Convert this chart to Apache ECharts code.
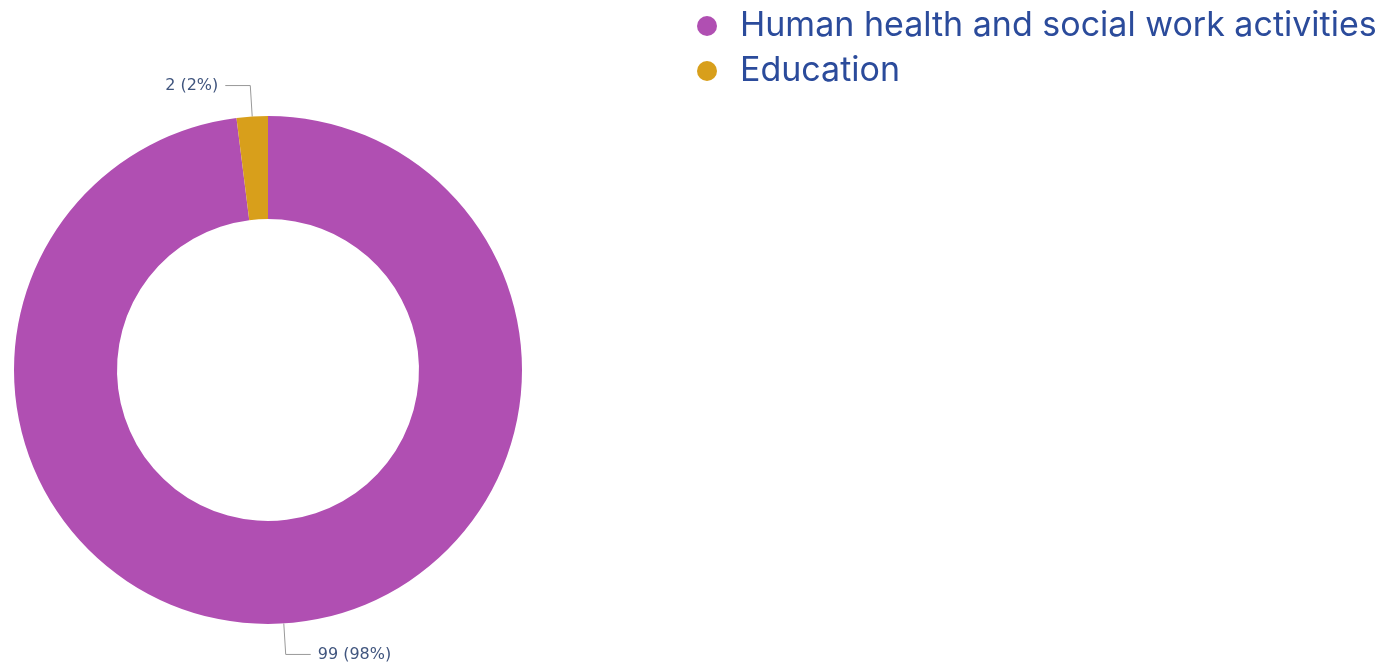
<!DOCTYPE html>
<html>
<head>
<meta charset="utf-8">
<script src="https://cdn.jsdelivr.net/npm/echarts@6/dist/echarts.min.js"></script>
<style>
  html, body { margin: 0; padding: 0; background: #fff; }
  #chart { width: 1388px; height: 667px; }
</style>
</head>
<body>
<div id="chart"></div>
<script>
const categories = ['Human health and social work activities', 'Education']
const values = [99, 2]
const colors = ['#b04fb2', '#d89f1b']

const chart = echarts.init(document.getElementById('chart'))

chart.setOption({
  animation: false,
  color: colors,
  legend: {
    orient: 'vertical',
    left: 697,
    top: 9,
    padding: 0,
    icon: 'circle',
    itemWidth: 56,
    itemHeight: 20,
    itemGap: 11,
    data: categories,
    textStyle: {
      fontFamily: 'Inter',
      fontSize: 34,
      color: '#2b4b9b',
    },
  },
  series: [{
    type: 'pie',
    center: [268, 370],
    radius: [151, 254],
    startAngle: 90,
    clockwise: true,
    avoidLabelOverlap: false,
    data: categories.map((name, i) => ({ name, value: values[i] })),
    label: {
      formatter: p => `${p.value} (${Math.round(p.percent)}%)`,
      fontFamily: 'DejaVu Sans',
      fontSize: 16,
      color: '#40557e',
      distanceToLabelLine: 7,
    },
    labelLine: {
      length: 31,
      length2: 25,
      lineStyle: { color: '#999', width: 1 },
    },
  }],
})
</script>
</body>
</html>
